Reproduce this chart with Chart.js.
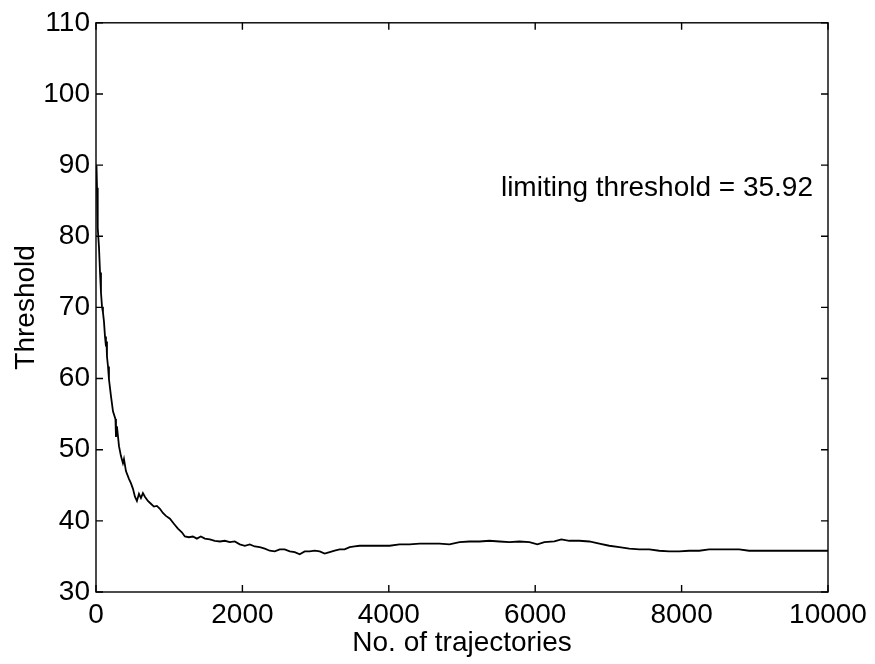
<!DOCTYPE html>
<html>
<head>
<meta charset="utf-8">
<script src="https://cdn.jsdelivr.net/npm/chart.js@4.4.0/dist/chart.umd.min.js"></script>
<style>
  html, body { margin: 0; padding: 0; background: #fff; }
  #wrap { width: 875px; height: 664px; }
</style>
</head>
<body>
<div id="wrap"><canvas id="thresholdChart" width="875" height="664"></canvas></div>
<script>
// x positions (no. of trajectories)
const trajectories = [
  7, 14, 20, 27, 41, 55, 68, 82, 95, 109, 123, 136, 143, 150, 164, 177, 205, 232, 266, 273,
  286, 314, 341, 368, 382, 409, 450, 477, 505, 532, 559, 587, 614, 641, 668, 709, 750, 791, 832, 873,
  914, 955, 1010, 1064, 1119, 1173, 1214, 1269, 1323, 1378, 1432, 1487, 1555, 1623, 1692, 1760, 1828, 1896, 1964, 2033,
  2101, 2169, 2237, 2306, 2374, 2442, 2510, 2578, 2647, 2715, 2783, 2851, 2919, 2988, 3056, 3124, 3192, 3260, 3329, 3397,
  3465, 3533, 3601, 3738, 3874, 4011, 4147, 4284, 4420, 4557, 4693, 4829, 4966, 5102, 5239, 5375, 5512, 5648, 5784, 5921,
  6030, 6126, 6262, 6357, 6467, 6603, 6739, 6876, 7012, 7149, 7285, 7422, 7558, 7694, 7831, 7967, 8104, 8240, 8376, 8513,
  8649, 8786, 8922, 9059, 9331, 9604, 10000
];
// threshold values
const thresholds = [
  89.9, 86.8, 83.6, 81.2, 78.4, 74.9, 72.1, 70.1, 69.3, 68.0, 65.9, 64.5, 65.2, 63.1, 61.7, 59.9, 57.5, 55.4, 54.3, 51.8,
  53.3, 50.5, 49.1, 48.1, 48.7, 47.0, 45.9, 45.3, 44.5, 43.4, 42.8, 43.8, 43.2, 43.9, 43.4, 42.8, 42.4, 42.0, 42.1, 41.7,
  41.1, 40.7, 40.3, 39.6, 38.9, 38.4, 37.8, 37.7, 37.8, 37.5, 37.8, 37.5, 37.4, 37.2, 37.1, 37.2, 37.0, 37.1, 36.7, 36.5,
  36.7, 36.4, 36.3, 36.1, 35.8, 35.7, 36.0, 36.0, 35.7, 35.6, 35.3, 35.7, 35.7, 35.8, 35.7, 35.4, 35.6, 35.8, 36.0, 36.0,
  36.3, 36.4, 36.5, 36.5, 36.5, 36.5, 36.7, 36.7, 36.8, 36.8, 36.8, 36.7, 37.0, 37.1, 37.1, 37.2, 37.1, 37.0, 37.1, 37.0,
  36.7, 37.0, 37.1, 37.4, 37.2, 37.2, 37.1, 36.8, 36.5, 36.3, 36.1, 36.0, 36.0, 35.8, 35.7, 35.7, 35.8, 35.8, 36.0, 36.0,
  36.0, 36.0, 35.8, 35.8, 35.8, 35.8, 35.8
];
const xTicks = [0, 2000, 4000, 6000, 8000, 10000];
const yTicks = [30, 40, 50, 60, 70, 80, 90, 100, 110];
const noteText = 'limiting threshold = 35.92';
const notePos = [9795, 86.8]; // right end of the note, in data units

const FONT = '"Liberation Sans", Arial, Helvetica, sans-serif';
const FSIZE = 28;

// frame + inward ticks on all four sides, plus the text note
const frameTicks = {
  id: 'frameTicks',
  afterDraw(chart) {
    const ctx = chart.ctx;
    const a = chart.chartArea;
    const xs = chart.scales.x, ys = chart.scales.y;
    const len = 7;
    ctx.save();
    ctx.strokeStyle = '#000';
    ctx.lineWidth = 1.4;
    ctx.strokeRect(a.left, a.top, a.right - a.left, a.bottom - a.top);
    ctx.beginPath();
    xTicks.forEach(v => {
      const px = xs.getPixelForValue(v);
      ctx.moveTo(px, a.bottom); ctx.lineTo(px, a.bottom - len);
      ctx.moveTo(px, a.top); ctx.lineTo(px, a.top + len);
    });
    yTicks.forEach(v => {
      const py = ys.getPixelForValue(v);
      ctx.moveTo(a.left, py); ctx.lineTo(a.left + len, py);
      ctx.moveTo(a.right, py); ctx.lineTo(a.right - len, py);
    });
    ctx.stroke();

    ctx.fillStyle = '#000';
    ctx.font = FSIZE + 'px ' + FONT;
    ctx.textAlign = 'right';
    ctx.textBaseline = 'middle';
    ctx.fillText(noteText, xs.getPixelForValue(notePos[0]), ys.getPixelForValue(notePos[1]));
    ctx.restore();
  }
};

new Chart(document.getElementById('thresholdChart'), {
  type: 'line',
  data: {
    datasets: [{
      data: trajectories.map((t, i) => ({ x: t, y: thresholds[i] })),
      borderColor: '#000',
      borderWidth: 1.8,
      pointRadius: 0,
      tension: 0,
      fill: false
    }]
  },
  options: {
    responsive: false,
    animation: false,
    layout: { padding: { top: 19, right: 47, left: 0, bottom: 0 } },
    plugins: { legend: { display: false }, tooltip: { enabled: false } },
    scales: {
      x: {
        type: 'linear',
        min: 0, max: 10000,
        afterBuildTicks: s => { s.ticks = xTicks.map(v => ({ value: v })); },
        afterFit: s => { s.height = 72; },
        grid: { display: false, drawTicks: false },
        border: { display: false },
        ticks: {
          color: '#000', autoSkip: false, maxRotation: 0, padding: 6,
          font: { family: FONT, size: FSIZE },
          callback: v => String(v)
        },
        title: {
          display: true, text: 'No. of trajectories', color: '#000',
          font: { family: FONT, size: FSIZE }, padding: { top: 0, bottom: 4 }
        }
      },
      y: {
        min: 30, max: 110,
        afterBuildTicks: s => { s.ticks = yTicks.map(v => ({ value: v })); },
        afterFit: s => { s.width = 96; },
        grid: { display: false, drawTicks: false },
        border: { display: false },
        ticks: {
          color: '#000', padding: 6,
          font: { family: FONT, size: FSIZE },
          callback: v => String(v)
        },
        title: {
          display: true, text: 'Threshold', color: '#000',
          font: { family: FONT, size: FSIZE }, padding: { top: 9, bottom: 0 }
        }
      }
    }
  },
  plugins: [frameTicks]
});
</script>
</body>
</html>
